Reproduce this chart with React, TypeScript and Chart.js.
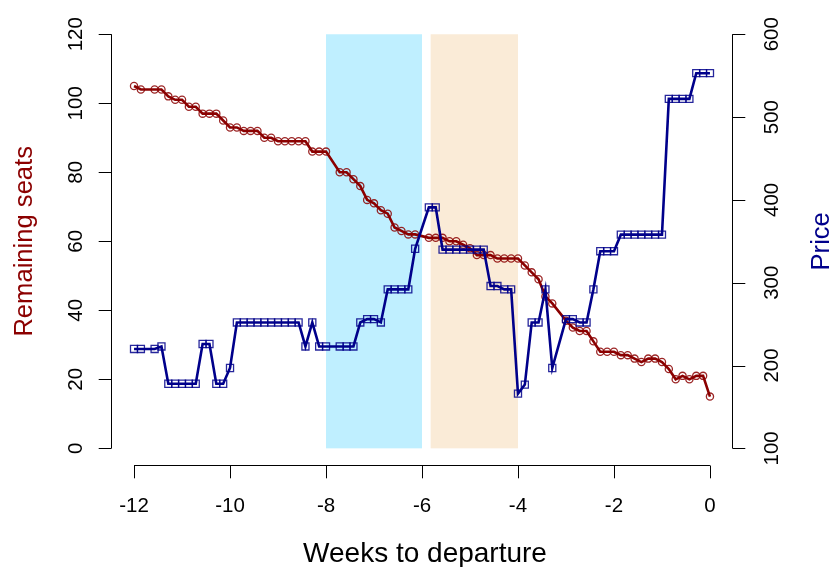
import React, { useEffect, useRef } from "react";
import { Chart, registerables } from "chart.js";

Chart.register(...registerables);

// Days since the start of the 12-week window (week = day / 7 - 12)
const days: number[] = [
  0, 1, 3, 4, 5, 6, 7, 8, 9, 10, 11, 12, 13, 14, 15, 16, 17, 18, 19, 20, 21, 22, 23, 24, 25, 26, 27, 28,
  30, 31, 32, 33, 34, 35, 36, 37, 38, 39, 40, 41,
  43, 44, 45, 46, 47, 48, 49, 50, 51, 52, 53, 54, 55, 56, 57, 58, 59, 60, 61,
  63, 64, 65, 66, 67, 68, 69, 70, 71, 72, 73, 74, 75, 76, 77, 78, 79, 80, 81, 82, 83, 84,
];

const remainingSeats: number[] = [
  105, 104, 104, 104, 102, 101, 101, 99, 99, 97, 97, 97, 95, 93, 93, 92, 92, 92, 90, 90, 89, 89, 89, 89, 89, 86, 86, 86,
  80, 80, 78, 76, 72, 71, 69, 68, 64, 63, 62, 62,
  61, 61, 61, 60, 60, 59, 58, 56, 56, 56, 55, 55, 55, 55, 53, 51, 49, 44, 42,
  37, 35, 34, 34, 31, 28, 28, 28, 27, 27, 26, 25, 26, 26, 25, 23, 20, 21, 20, 21, 21, 15,
];

const price: number[] = [
  220, 220, 220, 223, 178, 178, 178, 178, 178, 226, 226, 178, 178, 197, 252, 252, 252, 252, 252, 252, 252, 252, 252, 252, 223, 252, 223, 223,
  223, 223, 223, 252, 256, 256, 252, 292, 292, 292, 292, 341,
  391, 391, 340, 340, 340, 340, 340, 340, 340, 296, 296, 292, 292, 166, 177, 252, 252, 292, 197,
  256, 256, 252, 252, 292, 338, 338, 338, 358, 358, 358, 358, 358, 358, 358, 522, 522, 522, 522, 553, 553, 553,
];

// Shaded periods (weeks to departure)
const blueBand: number[] = [-8, -6];
const wheatBand: number[] = [-5.82, -4];

// Tick labels
const xTicks: number[] = [-12, -10, -8, -6, -4, -2, 0];
const seatTicks: number[] = [0, 20, 40, 60, 80, 100, 120];
const priceTicks: number[] = [100, 200, 300, 400, 500, 600];

const FONT = "'Liberation Sans', Arial, Helvetica, sans-serif";

const bandsPlugin = {
  id: "bands",
  beforeDatasetsDraw(chart: any) {
    const { ctx, scales } = chart;
    const x = scales.x;
    const y = scales.y;
    const top = y.getPixelForValue(120);
    const bottom = y.getPixelForValue(0);
    ctx.save();
    ctx.fillStyle = "#BFEFFF";
    let x0 = x.getPixelForValue(blueBand[0]);
    let x1 = x.getPixelForValue(blueBand[1]);
    ctx.fillRect(x0, top, x1 - x0, bottom - top);
    ctx.fillStyle = "#FAEBD7";
    x0 = x.getPixelForValue(wheatBand[0]);
    x1 = x.getPixelForValue(wheatBand[1]);
    ctx.fillRect(x0, top, x1 - x0, bottom - top);
    ctx.restore();
  },
};

const rAxesPlugin = {
  id: "rAxes",
  afterDraw(chart: any) {
    const { ctx, scales, chartArea } = chart;
    const x = scales.x;
    const y = scales.y;
    const y2 = scales.y2;
    const tick = 12.8;
    ctx.save();
    ctx.strokeStyle = "#000";
    ctx.lineWidth = 1;
    ctx.fillStyle = "#000";
    ctx.font = `20.5px ${FONT}`;

    // bottom axis
    const by = Math.round(chartArea.bottom) + 0.5;
    ctx.beginPath();
    ctx.moveTo(x.getPixelForValue(xTicks[0]), by);
    ctx.lineTo(x.getPixelForValue(xTicks[xTicks.length - 1]), by);
    xTicks.forEach((t) => {
      const px = Math.round(x.getPixelForValue(t)) + 0.5;
      ctx.moveTo(px, by);
      ctx.lineTo(px, by + tick);
    });
    ctx.stroke();
    ctx.textAlign = "center";
    ctx.textBaseline = "alphabetic";
    xTicks.forEach((t) => {
      ctx.fillText(String(t), x.getPixelForValue(t), 512);
    });

    // left axis
    const lx = Math.round(chartArea.left) + 0.5;
    ctx.beginPath();
    ctx.moveTo(lx, y.getPixelForValue(seatTicks[0]));
    ctx.lineTo(lx, y.getPixelForValue(seatTicks[seatTicks.length - 1]));
    seatTicks.forEach((t) => {
      const py = Math.round(y.getPixelForValue(t)) + 0.5;
      ctx.moveTo(lx, py);
      ctx.lineTo(lx - tick, py);
    });
    ctx.stroke();
    seatTicks.forEach((t) => {
      ctx.save();
      ctx.translate(81.5, y.getPixelForValue(t));
      ctx.rotate(-Math.PI / 2);
      ctx.textAlign = "center";
      ctx.fillText(String(t), 0, 0);
      ctx.restore();
    });

    // right axis
    const rx = Math.round(chartArea.right) - 0.5;
    ctx.beginPath();
    ctx.moveTo(rx, y2.getPixelForValue(priceTicks[0]));
    ctx.lineTo(rx, y2.getPixelForValue(priceTicks[priceTicks.length - 1]));
    priceTicks.forEach((t) => {
      const py = Math.round(y2.getPixelForValue(t)) + 0.5;
      ctx.moveTo(rx, py);
      ctx.lineTo(rx + tick, py);
    });
    ctx.stroke();
    priceTicks.forEach((t) => {
      ctx.save();
      ctx.translate(777.5, y2.getPixelForValue(t));
      ctx.rotate(-Math.PI / 2);
      ctx.textAlign = "center";
      ctx.fillText(String(t), 0, 0);
      ctx.restore();
    });

    // titles
    ctx.font = `28px ${FONT}`;
    ctx.textAlign = "center";
    ctx.fillStyle = "#000";
    ctx.fillText("Weeks to departure", (chartArea.left + chartArea.right) / 2 + 3, 562);

    ctx.font = `25.6px ${FONT}`;
    const midY = (chartArea.top + chartArea.bottom) / 2;
    ctx.save();
    ctx.translate(32, midY);
    ctx.rotate(-Math.PI / 2);
    ctx.fillStyle = "#8B0000";
    ctx.fillText("Remaining seats", 0, 0);
    ctx.restore();

    ctx.save();
    ctx.translate(829, midY);
    ctx.rotate(-Math.PI / 2);
    ctx.fillStyle = "#00008B";
    ctx.fillText("Price", 0, 0);
    ctx.restore();

    ctx.restore();
  },
};

export default function App() {
  const canvasRef = useRef<HTMLCanvasElement | null>(null);

  useEffect(() => {
    const canvas = canvasRef.current;
    if (!canvas) return;
    const weeks = days.map((d) => d / 7 - 12);
    const chart = new Chart(canvas, {
      type: "line",
      data: {
        datasets: [
          {
            label: "Price",
            data: weeks.map((w, i) => ({ x: w, y: price[i] })),
            yAxisID: "y2",
            borderColor: "#00008B",
            borderWidth: 2.6,
            pointStyle: "rect",
            pointRadius: 5,
            pointBorderWidth: 1.3,
            pointBorderColor: "rgba(0,0,139,0.85)",
            pointBackgroundColor: "rgba(0,0,0,0)",
            tension: 0,
            order: 0,
          },
          {
            label: "Remaining seats",
            data: weeks.map((w, i) => ({ x: w, y: remainingSeats[i] })),
            yAxisID: "y",
            borderColor: "#8B0000",
            borderWidth: 2.6,
            pointStyle: "circle",
            pointRadius: 3.6,
            pointBorderWidth: 1.3,
            pointBorderColor: "rgba(139,0,0,0.85)",
            pointBackgroundColor: "rgba(0,0,0,0)",
            tension: 0,
            order: 1,
          },
        ],
      },
      options: {
        animation: false,
        responsive: false,
        devicePixelRatio: 1,
        layout: { padding: { left: 111, right: 101, top: 17.7, bottom: 102.1 } },
        scales: {
          x: { type: "linear", min: -12.48, max: 0.48, display: false },
          y: { type: "linear", min: -4.8, max: 124.8, display: false },
          y2: { type: "linear", min: 80, max: 620, display: false },
        },
        plugins: {
          legend: { display: false },
          tooltip: { enabled: false },
        },
      },
      plugins: [bandsPlugin, rAxesPlugin],
    });
    return () => chart.destroy();
  }, []);

  return (
    <div style={{ position: "fixed", left: 0, top: 0, width: 834, height: 567, background: "#fff" }}>
      <canvas ref={canvasRef} width={834} height={567} />
    </div>
  );
}
